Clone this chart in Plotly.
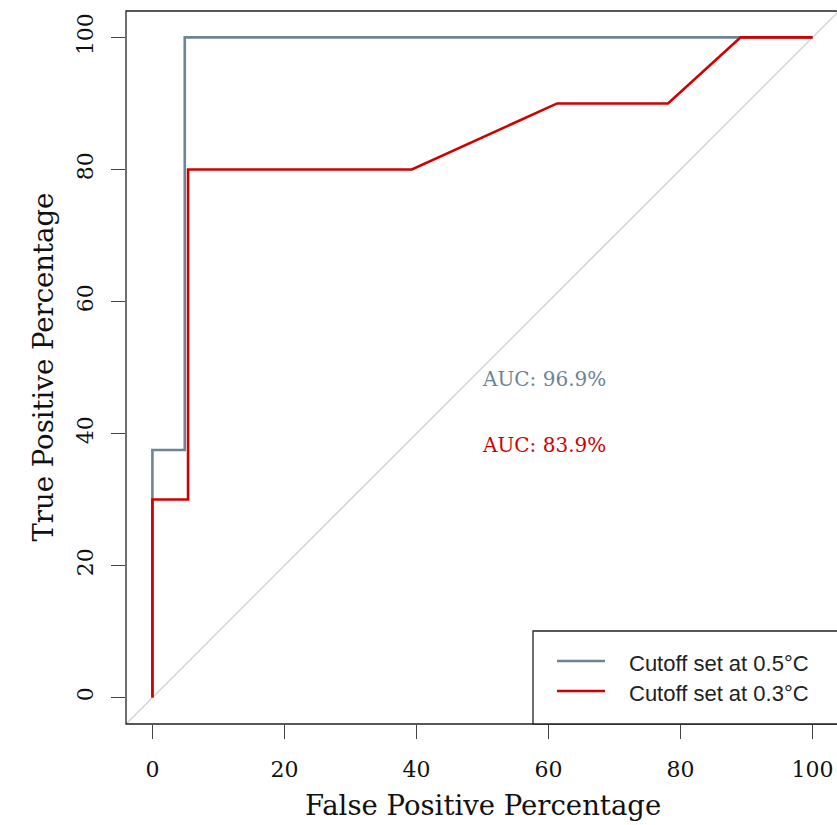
import plotly.graph_objects as go

# ROC curve data (percent)
fpr_05 = [0, 0, 0, 4.9, 4.9, 100]
tpr_05 = [0, 30, 37.5, 37.5, 100, 100]
fpr_03 = [0, 0, 5.4, 5.4, 39.3, 61.3, 78.1, 89.1, 100]
tpr_03 = [0, 30, 30, 80, 80, 90, 90, 100, 100]
diag = [-10, 120]
series_names = ["Cutoff set at 0.5°C", "Cutoff set at 0.3°C"]
auc_labels = ["AUC: 96.9%", "AUC: 83.9%"]
auc_y = [50, 40]
ticks = [0, 20, 40, 60, 80, 100]

BLUE = "#6C8494"
RED = "#D10000"
SERIF = "DejaVu Serif"
SANS = "Liberation Sans"

W, H = 837, 825
L, T, B = 126, 11, 101
pw = W - L
ph = H - T - B
ppu = ph / 108.0
xmax = -4 + pw / ppu

fig = go.Figure()
fig.add_trace(go.Scatter(x=diag, y=diag, mode="lines",
                         line=dict(color="#C8C8C8", width=1.2), showlegend=False, hoverinfo="skip"))
fig.add_trace(go.Scatter(x=fpr_05, y=tpr_05, mode="lines", name=series_names[0],
                         line=dict(color=BLUE, width=2.6), showlegend=False))
fig.add_trace(go.Scatter(x=fpr_03, y=tpr_03, mode="lines", name=series_names[1],
                         line=dict(color=RED, width=2.6), showlegend=False))

def px2paper_x(px):
    return (px - L) / pw

def px2paper_y(py):
    return (H - B - py) / ph

shapes = []
# plot box (right edge beyond the window)
shapes.append(dict(type="rect", xref="paper", yref="paper", x0=0, x1=1.01, y0=0, y1=1,
                   line=dict(color="#222222", width=1.3), layer="above"))
# legend box
shapes.append(dict(type="rect", xref="paper", yref="paper",
                   x0=px2paper_x(533), x1=1.05, y0=0, y1=px2paper_y(631),
                   line=dict(color="#222222", width=1.3), fillcolor="white", layer="above"))
legend_y = [661, 691]
for i, col in enumerate([BLUE, RED]):
    shapes.append(dict(type="line", xref="paper", yref="paper",
                       x0=px2paper_x(557), x1=px2paper_x(605),
                       y0=px2paper_y(legend_y[i]), y1=px2paper_y(legend_y[i]),
                       line=dict(color=col, width=2.6), layer="above"))

annotations = []
for i, col in enumerate([BLUE, RED]):
    annotations.append(dict(x=px2paper_x(627), y=px2paper_y(legend_y[i] + 2.5), xref="paper", yref="paper",
                            text=series_names[i], showarrow=False, xanchor="left", yanchor="middle",
                            font=dict(family=SANS, size=22, color="#222222")))
    annotations.append(dict(x=50, y=auc_y[i], xref="x", yref="y", text=auc_labels[i],
                            showarrow=False, xanchor="left", yanchor="top", xshift=-3, yshift=3,
                            font=dict(family=SERIF, size=20, color=col)))
annotations.append(dict(x=50, y=px2paper_y(805), xref="x", yref="paper",
                        text="False Positive Percentage", showarrow=False,
                        xanchor="center", yanchor="middle",
                        font=dict(family=SERIF, size=27.5, color="#111111")))
annotations.append(dict(x=px2paper_x(42), y=50, xref="paper", yref="y",
                        text="True Positive Percentage", showarrow=False, textangle=-90,
                        xanchor="center", yanchor="middle",
                        font=dict(family=SERIF, size=27.5, color="#111111")))

fig.update_layout(
    width=W, height=H,
    margin=dict(l=L, r=0, t=T, b=B, pad=0),
    paper_bgcolor="white", plot_bgcolor="white",
    shapes=shapes, annotations=annotations,
    showlegend=False,
)
fig.update_xaxes(range=[-4, xmax], tickvals=ticks, ticktext=[str(t) for t in ticks],
                 ticks="outside", ticklen=14, tickwidth=1.3, tickcolor="#444444",
                 showgrid=False, zeroline=False, showline=False,
                 ticklabelstandoff=12,
                 tickfont=dict(family=SERIF, size=22, color="#111111"))
fig.update_yaxes(range=[-4, 104], tickvals=ticks, ticktext=[str(t) for t in ticks],
                 ticks="outside", ticklen=14, tickwidth=1.3, tickcolor="#444444",
                 showgrid=False, zeroline=False, showline=False, tickangle=-90,
                 ticklabelstandoff=9,
                 tickfont=dict(family=SERIF, size=22, color="#111111"))

fig.write_html("out.html")
